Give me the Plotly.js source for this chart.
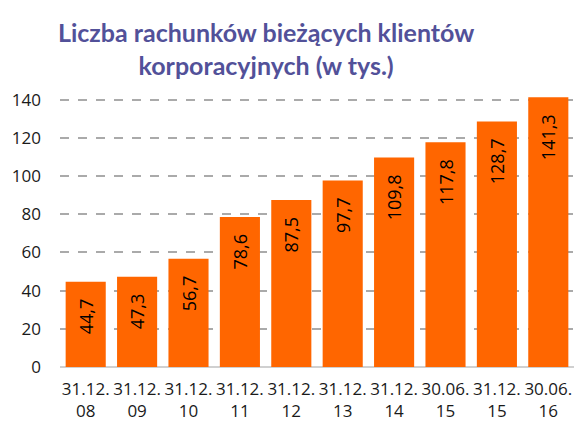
<!DOCTYPE html>
<html>
<head>
<meta charset="utf-8">
<script src="https://cdn.plot.ly/plotly-3.0.1.min.js"></script>
<style>html,body{margin:0;padding:0;background:#fff;}#chart{width:576px;height:423px;}</style>
</head>
<body>
<div id="chart"></div>
<script>
const categories = ["31.12.<br>08","31.12.<br>09","31.12.<br>10","31.12.<br>11","31.12.<br>12","31.12.<br>13","31.12.<br>14","30.06.<br>15","31.12.<br>15","30.06.<br>16"];
const values = [44.7, 47.3, 56.7, 78.6, 87.5, 97.7, 109.8, 117.8, 128.7, 141.3];
const valueLabels = values.map(v => v.toFixed(1).replace('.', ',') + '\u00a0\u00a0\u00a0');
const yTicks = [0, 20, 40, 60, 80, 100, 120, 140];

const trace = {
  type: 'bar',
  x: categories,
  y: values,
  text: valueLabels,
  textposition: 'inside',
  insidetextanchor: 'end',
  textangle: -90,
  constraintext: 'none',
  insidetextfont: {family: '"Open Sans", sans-serif', size: 18, color: '#000'},
  marker: {color: '#FF6600'},
  hoverinfo: 'none'
};

const layout = {
  width: 576, height: 423,
  margin: {l: 60, r: 2, t: 96, b: 56},
  paper_bgcolor: '#fff', plot_bgcolor: '#fff',
  bargap: 0.22,
  showlegend: false,
  font: {family: '"Open Sans", sans-serif', color: '#1a1a1a'},
  title: {
    text: 'Liczba rachunków bieżących klientów<br>korporacyjnych (w tys.)',
    font: {family: 'Lato, "Open Sans", sans-serif', size: 25, color: '#525199', weight: 'bold'},
    x: 0.462, xref: 'container', xanchor: 'center',
    y: 0.9, yref: 'container', yanchor: 'top'
  },
  xaxis: {
    tickfont: {size: 17, color: '#1a1a1a'},
    showgrid: false, showline: false, ticks: '',
    ticklabelstandoff: 10
  },
  yaxis: {
    range: [0, 142],
    tickvals: yTicks,
    tickfont: {size: 17, color: '#1a1a1a'},
    showgrid: true, gridcolor: '#aaaaaa', griddash: 'dash', gridwidth: 2,
    zeroline: true, zerolinecolor: '#d0d0d0', zerolinewidth: 2,
    showline: false, ticks: '',
    ticklabelstandoff: 18
  }
};

Plotly.newPlot('chart', [trace], layout, {displayModeBar: false, staticPlot: true});
</script>
</body>
</html>
